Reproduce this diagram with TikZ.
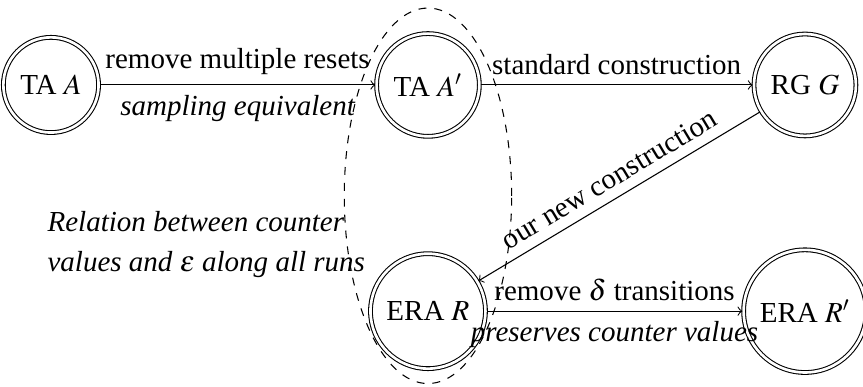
\documentclass[tikz,border=0pt,11pt]{standalone}
\usepackage{mathptmx}
\usepackage[no-math]{fontspec}
\setmainfont{Liberation Serif}
\usepackage{tikz}
\usetikzlibrary{automata}
\usetikzlibrary{positioning}
\usetikzlibrary{arrows}
\tikzset{node distance=2.5cm,
every state/.style={ % Sets the properties for each state
thin,
inner sep=4.5pt},
double distance=1pt, % Adjust appearance of accept states
every edge/.style={ % Sets the properties for each transition
draw,
->, % Directed edges
auto,
thin}}

\begin{document}
\begin{tikzpicture}
\useasboundingbox (-0.676,-4.005) rectangle (10.77,1.127);
\node[state, accepting] (ta) at (0,0) {TA $A$};
\node[state, accepting] (tap) at (5,0) {TA $A'$};
\node[state, accepting] (rg) at (10,0) {RG $G$};
\node[state, accepting] (era) at (5,-3) {ERA $R$};
\node[state, accepting] (erap) at (10,-3) {ERA $R'$};
\draw (ta) edge node {remove multiple resets} node[swap] {\itshape sampling equivalent} (tap) ;
\draw (tap) edge node {standard construction} (rg) ;
\draw (rg) edge node[above, sloped] {our new construction} (era) ;
\draw (era) edge node {remove $\delta$ transitions} node[swap] {\itshape preserves counter values} (erap) ;
% group of the two middle automata
\draw[dashed] (5,-1.47) ellipse (1.11 and 2.49);
\node[align=left, font=\itshape] (rel) at (2.06,-2.11) {Relation between counter\\[1.5pt]values and $\epsilon$ along all runs};
\end{tikzpicture}
\end{document}
